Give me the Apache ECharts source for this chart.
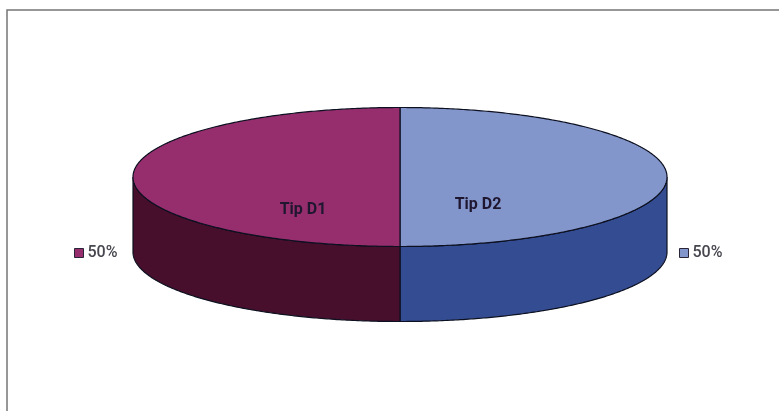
<!DOCTYPE html>
<html>
<head>
<meta charset="utf-8">
<style>html,body{margin:0;padding:0;background:#fff}#c{width:779px;height:411px}</style>
<script src="https://cdn.jsdelivr.net/npm/echarts@6/dist/echarts.min.js"></script>
</head>
<body>
<div id="c"></div>
<script>
// Data, clockwise from 12 o'clock
const sliceNames = ['Tip D2', 'Tip D1'];
const sliceValues = [50, 50];
const topColors = ['#8396cb', '#962e6e'];
const sideColors = ['#344c91', '#470f2b'];

// Layout of the tilted pie
const cx = 400, cy = 177, rx = 267, ry = 69.5, depth = 75;
const labelAt = { 'Tip D2': [478, 205], 'Tip D1': [303, 210] };
const outline = '#0c1020';
const total = sliceValues.reduce((a, b) => a + b, 0);

function pt(t, dy) { return [cx + rx * Math.cos(t), cy + ry * Math.sin(t) + (dy || 0)]; }
function arc(a, b, dy) {
  const n = Math.max(2, Math.ceil(Math.abs(b - a) / 0.01)), out = [];
  for (let i = 0; i <= n; i++) out.push(pt(a + (b - a) * i / n, dy));
  return out;
}

let acc = 0;
const series = sliceNames.map((name, i) => {
  const t0 = -Math.PI / 2 + 2 * Math.PI * acc / total;
  acc += sliceValues[i];
  const t1 = -Math.PI / 2 + 2 * Math.PI * acc / total;
  return {
    type: 'custom',
    name,
    coordinateSystem: 'none',
    silent: true,
    animation: false,
    itemStyle: { color: topColors[i] },
    data: [[sliceValues[i]]],
    renderItem() {
      const children = [];
      const lo = Math.max(t0, 0), hi = Math.min(t1, Math.PI);
      if (hi > lo) {
        children.push({
          type: 'polygon',
          shape: { points: arc(lo, hi, 0).concat(arc(hi, lo, depth)) },
          style: { fill: sideColors[i], stroke: outline, lineWidth: 1.2 }
        });
      }
      children.push({
        type: 'polygon',
        shape: { points: [[cx, cy]].concat(arc(t0, t1, 0)) },
        style: { fill: topColors[i], stroke: outline, lineWidth: 1.2 }
      });
      children.push({
        type: 'text',
        style: {
          x: labelAt[name][0], y: labelAt[name][1], text: name,
          fill: '#1f1630', font: 'bold 16px Roboto, "Liberation Sans", sans-serif',
          align: 'center', verticalAlign: 'middle'
        }
      });
      return { type: 'group', children };
    }
  };
});

function legend(name, left) {
  return {
    data: [name], left, top: 245, orient: 'vertical', selectedMode: false,
    icon: 'rect', itemWidth: 9, itemHeight: 9, padding: 0, itemGap: 0,
    itemStyle: { borderColor: '#2a2438', borderWidth: 1 },
    formatter: n => Math.round(sliceValues[sliceNames.indexOf(n)] / total * 100) + '%',
    textStyle: { color: '#45464e', fontSize: 16, fontWeight: 500, padding: [0, 0, 0, -1], fontFamily: 'Roboto, "Liberation Sans", sans-serif' }
  };
}

const chart = echarts.init(document.getElementById('c'), null, { renderer: 'canvas' });
chart.setOption({
  backgroundColor: '#fff',
  animation: false,
  legend: [legend('Tip D1', 74), legend('Tip D2', 679)],
  graphic: [{
    type: 'rect', silent: true, z: -1,
    shape: { x: 7, y: 10, width: 820, height: 440 },
    style: { fill: 'transparent', stroke: '#767676', lineWidth: 1.5 }
  }],
  series
});
</script>
</body>
</html>
